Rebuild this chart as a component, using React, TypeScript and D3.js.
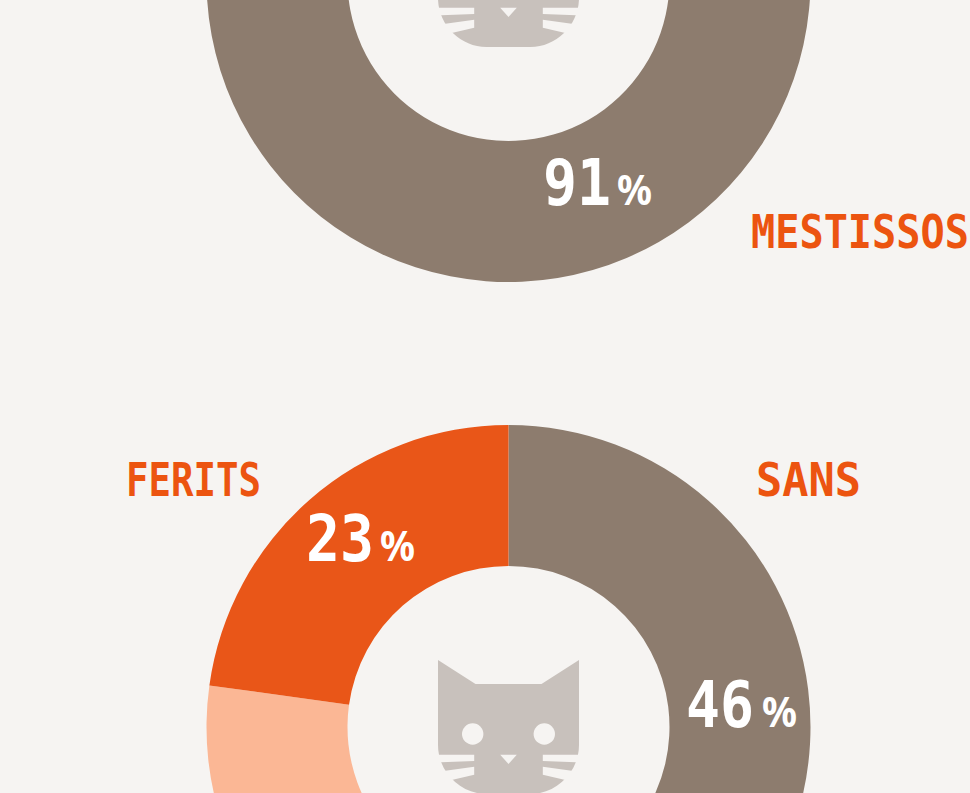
import React from 'react';
import * as d3 from 'd3';

// Values
const topCategories = ['MESTISSOS', 'ALTRES'];
const topValues = [91, 9];
const bottomCategories = ['SANS', 'ALTRES', 'FERITS'];
const bottomValues = [46, 31.2, 22.8];

const WIDTH = 970;
const HEIGHT = 793;
const BG = '#f6f4f2';
const BROWN = '#8d7c6e';
const ORANGE = '#e95618';
const PEACH = '#fbb795';
const CAT = '#c8c1bc';
const LABEL = '#ec5410';
const FONT = '"DejaVu Sans Mono", monospace';
const PCT_FONT = '"Noto Sans", sans-serif';
const MONO_ADVANCE = 0.602; // DejaVu Sans Mono glyph width, in em

const OUTER = 302;
const INNER = 161;
const CENTER_X = 508.5;
const TOP_Y = -20;
const BOTTOM_Y = 727;

const topColors = d3.scaleOrdinal<string>().domain(topCategories).range([BROWN, PEACH]);
const bottomColors = d3.scaleOrdinal<string>().domain(bottomCategories).range([BROWN, PEACH, ORANGE]);

const pie = d3.pie<number>().sort(null);
const arc = d3.arc<d3.PieArcDatum<number>>().innerRadius(INNER).outerRadius(OUTER);

// cat head, drawn around the centre of a donut
const catBody =
  'M-70.5,-67 L-33,-43 L33,-43 L70.5,-67 L70.5,18 C70.5,45 48,67 22,67 L-22,67 C-48,67 -70.5,45 -70.5,18 Z';
const whiskers = [
  'M-74,27.7 L-34.3,27.7 L-34.3,34 L-74,35.5 Z',
  'M-74,45.2 L-34.3,39.7 L-34.3,47.7 L-74,57 Z',
];

const Cat = ({ y }: { y: number }) => (
  <g transform={`translate(${CENTER_X},${y})`}>
    <path d={catBody} fill={CAT} />
    {[1, -1].map((side) => (
      <g key={side} transform={`scale(${side},1)`}>
        {whiskers.map((d) => (
          <path key={d} d={d} fill={BG} />
        ))}
        <circle cx={-35.8} cy={7} r={10.7} fill={BG} />
      </g>
    ))}
    <path d="M-8.3,27.7 L8.3,27.7 L0,37 Z" fill={BG} />
  </g>
);

const Donut = ({ y, values, categories, colors }: any) => (
  <g transform={`translate(${CENTER_X},${y})`}>
    {pie(values).map((d, i) => (
      <path key={categories[i]} d={arc(d) as string} fill={colors(categories[i])} />
    ))}
  </g>
);

// number + small percent sign, both fitted to the width they have in the picture
const Percent = ({ value, x, xPct, y }: { value: number; x: number; xPct: number; y: number }) => (
  <g fill="#fff" fontWeight="bold">
    <text
      x={x}
      y={y}
      fontFamily={FONT}
      fontSize={64}
      textLength={String(Math.round(value)).length * 34}
      lengthAdjust="spacingAndGlyphs"
    >
      {Math.round(value)}
    </text>
    <text x={xPct} y={y} fontFamily={PCT_FONT} fontSize={42} textLength={35} lengthAdjust="spacingAndGlyphs">
      %
    </text>
  </g>
);

// mono glyphs are too wide, so squeeze the whole label horizontally
const Label = ({ text, x, y, width }: { text: string; x: number; y: number; width: number }) => {
  const fontSize = 46;
  const squeeze = width / (text.length * fontSize * MONO_ADVANCE);
  return (
    <text
      transform={`translate(${x},${y}) scale(${squeeze},1)`}
      fill={LABEL}
      fontFamily={FONT}
      fontWeight="bold"
      fontSize={fontSize}
    >
      {text}
    </text>
  );
};

export default function App() {
  return (
    <svg
      width={WIDTH}
      height={HEIGHT}
      style={{ position: 'absolute', left: 0, top: 0, display: 'block', background: BG }}
    >
      <Donut y={TOP_Y} values={topValues} categories={topCategories} colors={topColors} />
      <Cat y={TOP_Y} />
      <Percent value={topValues[0]} x={543} xPct={617} y={205} />
      <Label text={topCategories[0]} x={751} y={248} width={218} />

      <Donut y={BOTTOM_Y} values={bottomValues} categories={bottomCategories} colors={bottomColors} />
      <Cat y={BOTTOM_Y} />
      <Percent value={bottomValues[0]} x={686} xPct={762} y={727} />
      <Percent value={bottomValues[2]} x={306} xPct={380} y={561} />
      <Label text={bottomCategories[0]} x={756} y={496} width={105} />
      <Label text={bottomCategories[2]} x={126} y={496} width={135} />
    </svg>
  );
}
